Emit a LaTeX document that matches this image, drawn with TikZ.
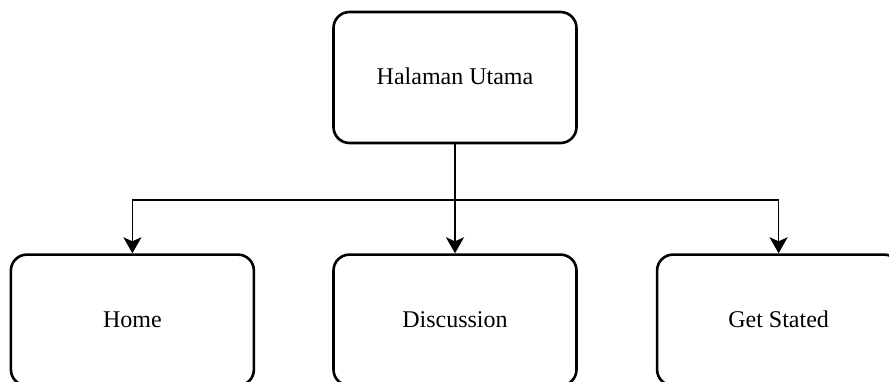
\documentclass[tikz,border=0pt]{standalone}
\usepackage{fontspec}
\setmainfont{Liberation Serif}
\usetikzlibrary{positioning, arrows.meta}

\begin{document}
\begin{tikzpicture}[->, >={Stealth[length=16pt, width=18pt, inset=4pt]},
            node distance=77pt,
            halaman/.style={draw, line width=2.6pt, rounded corners=16pt,
            minimum width=243pt, minimum height=131pt, text height=16pt, text depth=2pt,
            font=\fontsize{24}{28}\selectfont},
            garis/.style={line width=1.6pt}]
          \clip (-455pt,77.5pt) rectangle (434pt,-304.5pt);
          \node[halaman] (utama) {Halaman Utama};
          \node[halaman, below=109pt of utama] (discussion) {Discussion};
          \node[halaman, left=of discussion] (home) {Home};
          \node[halaman, right=78pt of discussion] (getstated) {Get Stated};
          % titik percabangan menu
          \coordinate[below=56pt of utama.south] (cabang);
          \draw[garis] (utama) -- (discussion);
          \draw[garis] (cabang) -| (home);
          \draw[garis] (cabang) -| (getstated);
        \end{tikzpicture}
\end{document}
